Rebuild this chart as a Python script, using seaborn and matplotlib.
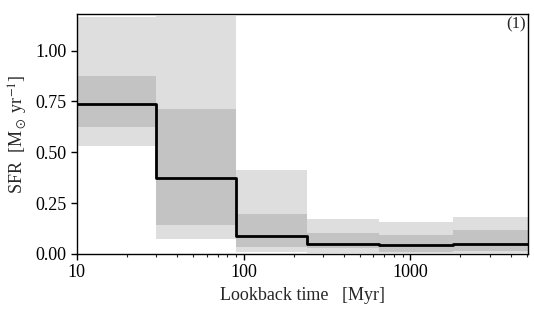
import numpy as np
import matplotlib
matplotlib.use("Agg")
import matplotlib.pyplot as plt
import seaborn as sns
from matplotlib.ticker import FixedLocator, FixedFormatter

# bin edges of lookback time [Myr] and SFR per bin
bin_edges = [10, 30, 90, 240, 650, 1800, 5100]
sfr_median = [0.74, 0.376, 0.088, 0.05, 0.042, 0.047]
sfr_inner_lo = [0.624, 0.141, 0.036, 0.028, 0.011, 0.014]
sfr_inner_hi = [0.876, 0.712, 0.196, 0.104, 0.093, 0.118]
sfr_outer_lo = [0.531, 0.074, 0.008, 0.005, 0.003, 0.003]
sfr_outer_hi = [1.167, 1.17, 0.412, 0.172, 0.158, 0.18]
x_ticks = [10, 100, 1000]
x_ticklabels = ["10", "100", "1000"]
y_ticks = [0.0, 0.25, 0.5, 0.75, 1.0]

sns.set_style("ticks")
plt.rcParams["font.family"] = ["Liberation Serif", "DejaVu Serif"]
plt.rcParams["mathtext.fontset"] = "stix"


def close(vals):
    # repeat last value so steps reach the final edge
    return list(vals) + [vals[-1]]


fig = plt.figure(figsize=(5.34, 3.12), dpi=100)
ax = fig.add_axes([0.144, 0.186, 0.845, 0.769])

ax.fill_between(bin_edges, close(sfr_outer_lo), close(sfr_outer_hi),
                step="post", color="#dedede", lw=0)
ax.fill_between(bin_edges, close(sfr_inner_lo), close(sfr_inner_hi),
                step="post", color="#c3c3c3", lw=0)
sns.lineplot(x=bin_edges, y=close(sfr_median), drawstyle="steps-post",
             color="black", lw=2, ax=ax)

ax.set_xscale("log")
ax.set_xlim(10, 5100)
ax.set_ylim(0, 1.18)
ax.xaxis.set_major_locator(FixedLocator(x_ticks))
ax.xaxis.set_major_formatter(FixedFormatter(x_ticklabels))
ax.set_yticks(y_ticks)
ax.set_yticklabels([f"{v:.2f}" for v in y_ticks])

for s in ax.spines.values():
    s.set_linewidth(1.0)
    s.set_color("black")
ax.tick_params(which="major", direction="out", length=4, width=1,
               labelsize=13, colors="black")
ax.tick_params(which="minor", direction="out", length=2.5, width=0.8)

ax.set_xlabel("Lookback time   [Myr]", fontsize=13)
ax.set_ylabel(r"SFR  [M$_\odot$ yr$^{-1}$]", fontsize=13)
ax.text(0.996, 0.99, "(1)", transform=ax.transAxes, ha="right", va="top",
        fontsize=12)

fig.savefig("out.png", dpi=100)
